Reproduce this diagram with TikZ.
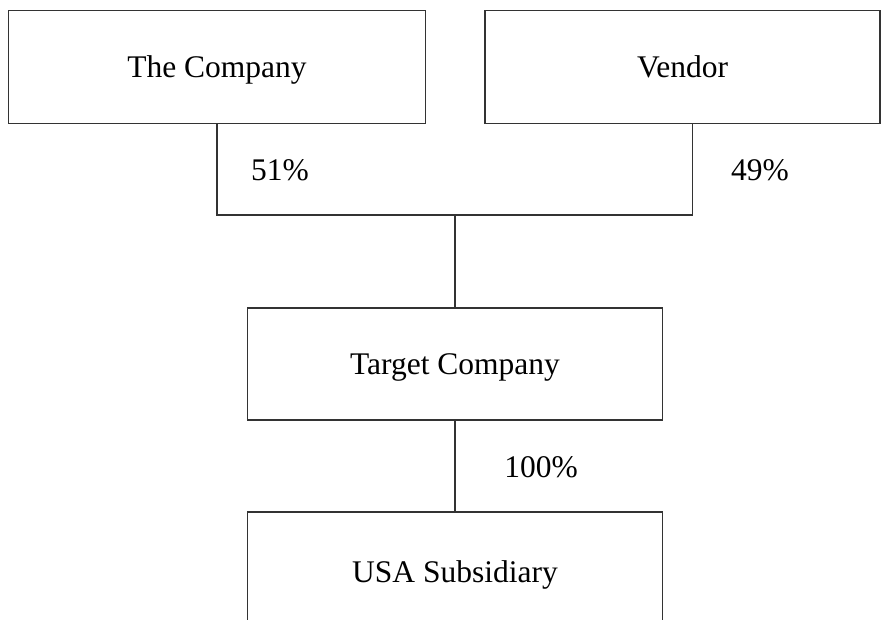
\documentclass[tikz,border=0pt]{standalone}
\usepackage{fontspec}
\setmainfont{Liberation Serif}
\begin{document}
\begin{tikzpicture}[x=1pt,y=-1pt,every node/.style={font=\fontsize{31.5}{36}\selectfont},
 box/.style={draw=black!80,line width=1.3pt,text height=21pt,text depth=0pt},
 link/.style={draw=black!80,line width=1.3pt},
 pct/.style={anchor=base,inner sep=0pt}]
 \useasboundingbox (0,0) rectangle (888,619);
 \clip (0,0) rectangle (888,619);
 \node[box,minimum width=417pt,minimum height=113pt] (comp) at (217,67) {The Company};
 \node[box,minimum width=395pt,minimum height=113pt] (vend) at (682.5,67) {Vendor};
 \node[box,minimum width=415pt,minimum height=112pt] (tgt) at (455,364) {Target Company};
 \node[box,minimum width=415pt,minimum height=120pt] (usa) at (455,572) {USA Subsidiary};
 \coordinate (jn) at (455,215);
 \coordinate (vj) at (692.5,123.5);
 \draw[link] (comp.south) |- (jn) -| (vj);
 \draw[link] (jn) -- (tgt.north);
 \draw[link] (tgt.south) -- (usa.north);
 \node[pct] (p51) at (280,180) {51\%};
 \node[pct] (p49) at (760,180) {49\%};
 \node[pct] (p100) at (541,477) {100\%};
\end{tikzpicture}
\end{document}
